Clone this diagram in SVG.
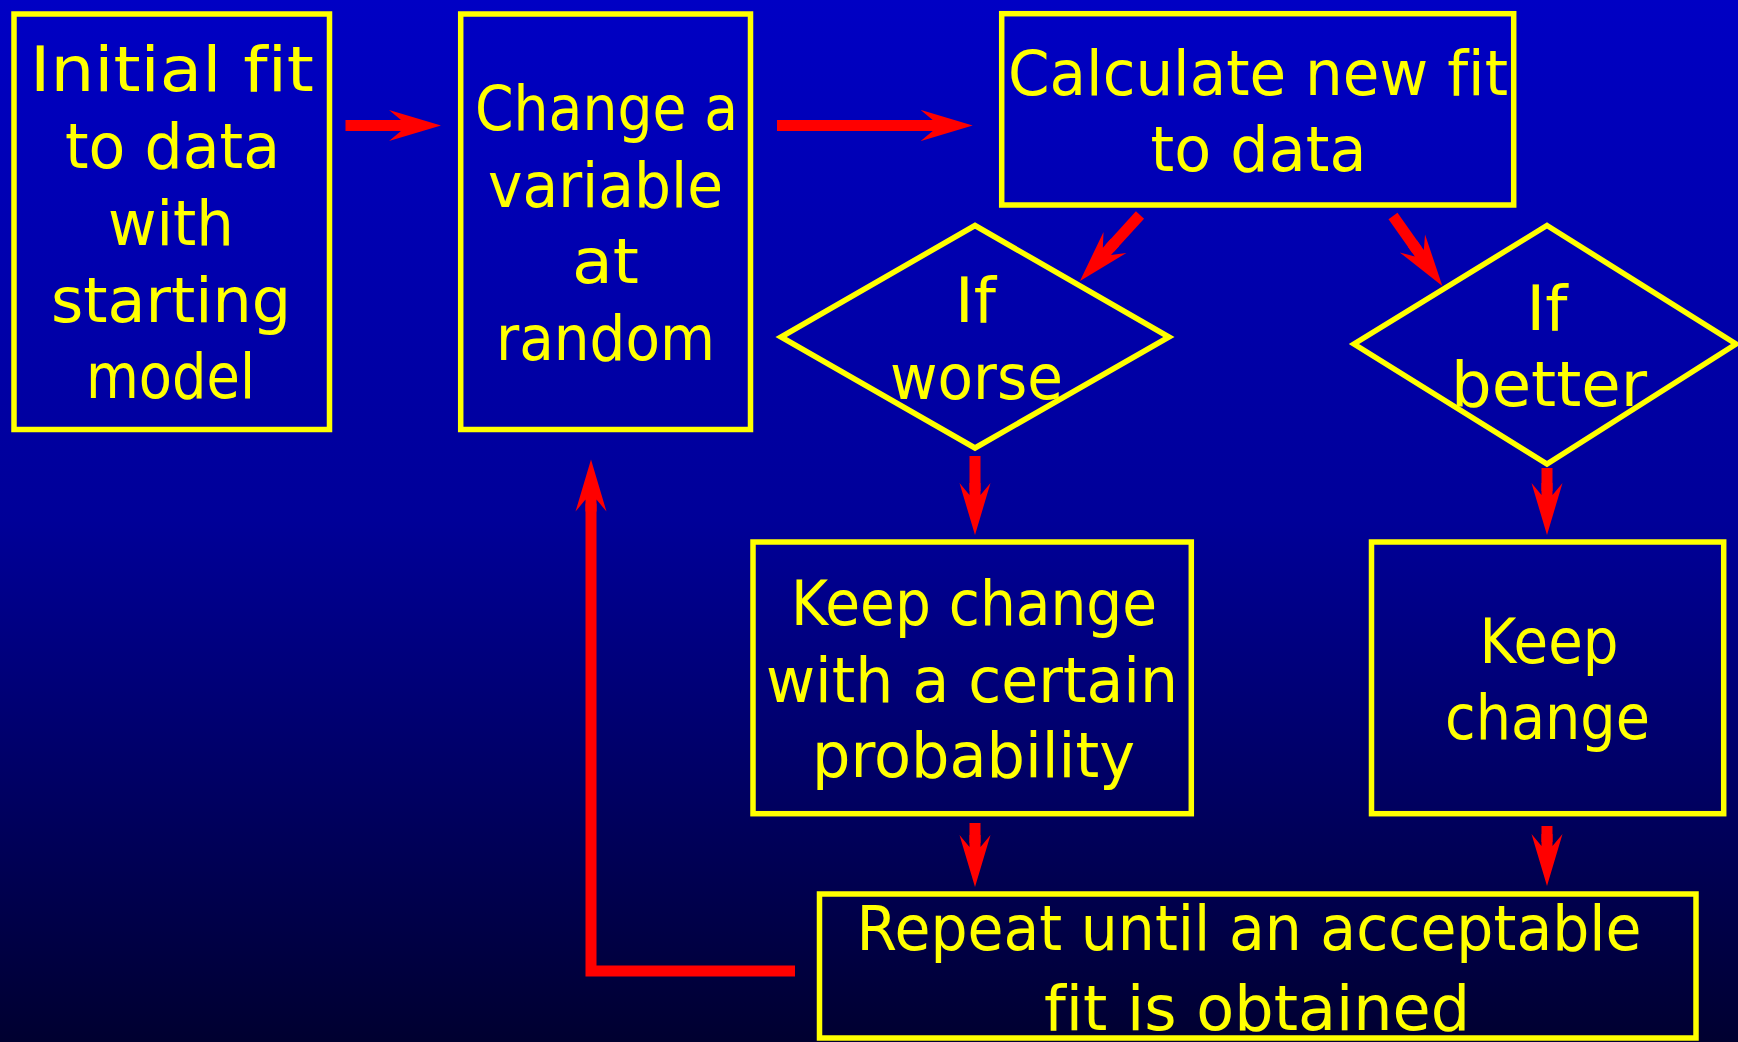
<svg xmlns="http://www.w3.org/2000/svg" width="1738" height="1042" viewBox="0 0 1738 1042">
<defs>
<linearGradient id="bg" x1="0" y1="0" x2="0" y2="1">
<stop offset="0" stop-color="#0000C4"/>
<stop offset="0.5" stop-color="#000098"/>
<stop offset="1" stop-color="#000030"/>
</linearGradient>
<marker id="ah" viewBox="0 -20 60 40" refX="8" refY="0" markerWidth="60" markerHeight="40" markerUnits="userSpaceOnUse" orient="auto">
<path d="M52,0 L0,-15.5 L12,-5.5 L0,-5.5 L0,5.5 L12,5.5 L0,15.5 Z" fill="#FF0000"/>
</marker>
<style>
.box{fill:none;stroke:#FFFF00;stroke-width:5.5}
.t{fill:#FFFF00;font-family:"DejaVu Sans","Liberation Sans",sans-serif;font-size:63px;text-anchor:middle;font-variant-ligatures:none}
.c{fill:none;stroke:#FF0000;stroke-width:11;stroke-linejoin:miter}
</style>
</defs>
<rect width="1738" height="1042" fill="url(#bg)"/>
<g id="connectors">
<path class="c" d="M345.5,125.5 L397,125.5" marker-end="url(#ah)"/>
<path class="c" d="M777,125.5 L928.7,125.5" marker-end="url(#ah)"/>
<path class="c" d="M1140,215 L1109.6,248.4" marker-end="url(#ah)"/>
<path class="c" d="M1393,216 L1417,250" marker-end="url(#ah)"/>
<path class="c" d="M975,456 L975,491" marker-end="url(#ah)"/>
<path class="c" d="M1547,468 L1547,491" marker-end="url(#ah)"/>
<path class="c" d="M975,823 L975,843" marker-end="url(#ah)"/>
<path class="c" d="M1547,826 L1547,842" marker-end="url(#ah)"/>
<path class="c" d="M795,971 L591,971 L591,503.6" marker-end="url(#ah)"/>
</g>
<g id="initial">
<rect class="box" x="14" y="14" width="315.5" height="415.5"/>
<text class="t" x="172" y="91" textLength="284" lengthAdjust="spacingAndGlyphs">Initial fit</text>
<text class="t" x="172.5" y="168" textLength="215" lengthAdjust="spacingAndGlyphs">to data</text>
<text class="t" x="171" y="245" textLength="126" lengthAdjust="spacingAndGlyphs">with</text>
<text class="t" x="171" y="322" textLength="240" lengthAdjust="spacingAndGlyphs">starting</text>
<text class="t" x="170.5" y="398" textLength="169" lengthAdjust="spacingAndGlyphs">model</text>
</g>
<g id="change">
<rect class="box" x="460.7" y="14" width="289.8" height="415.5"/>
<text class="t" x="606.5" y="130" textLength="263" lengthAdjust="spacingAndGlyphs">Change a</text>
<text class="t" x="605.5" y="206.5" textLength="235" lengthAdjust="spacingAndGlyphs">variable</text>
<text class="t" x="605.5" y="283" textLength="67" lengthAdjust="spacingAndGlyphs">at</text>
<text class="t" x="605.5" y="359.5" textLength="219" lengthAdjust="spacingAndGlyphs">random</text>
</g>
<g id="calculate">
<rect class="box" x="1001.7" y="13.7" width="512" height="191.3"/>
<text class="t" x="1258" y="95" textLength="500" lengthAdjust="spacingAndGlyphs">Calculate new fit</text>
<text class="t" x="1258.5" y="170.7" textLength="216" lengthAdjust="spacingAndGlyphs">to data</text>
</g>
<g id="ifworse">
<polygon class="box" points="975,225.5 1169,337 975,448 781,337"/>
<text class="t" x="975.5" y="321.7">If</text>
<text class="t" x="976.5" y="399.3" textLength="173" lengthAdjust="spacingAndGlyphs">worse</text>
</g>
<g id="ifbetter">
<polygon class="box" points="1547,225.5 1736,344 1547,464 1354,344"/>
<text class="t" x="1547" y="330">If</text>
<text class="t" x="1549" y="405.7" textLength="196" lengthAdjust="spacingAndGlyphs">better</text>
</g>
<g id="keepprob">
<rect class="box" x="753" y="542" width="438.3" height="271.7"/>
<text class="t" x="974" y="625" textLength="366" lengthAdjust="spacingAndGlyphs">Keep change</text>
<text class="t" x="972" y="701.7" textLength="412" lengthAdjust="spacingAndGlyphs">with a certain</text>
<text class="t" x="973.5" y="776.7" textLength="323" lengthAdjust="spacingAndGlyphs">probability</text>
</g>
<g id="keep">
<rect class="box" x="1371.5" y="542" width="352.2" height="271.7"/>
<text class="t" x="1549" y="663.3" textLength="139" lengthAdjust="spacingAndGlyphs">Keep</text>
<text class="t" x="1547.5" y="739" textLength="205" lengthAdjust="spacingAndGlyphs">change</text>
</g>
<g id="repeat">
<rect class="box" x="819.5" y="894" width="876.5" height="144"/>
<text class="t" x="1249" y="950" textLength="785" lengthAdjust="spacingAndGlyphs">Repeat until an acceptable</text>
<text class="t" x="1257" y="1030" textLength="426" lengthAdjust="spacingAndGlyphs">fit is obtained</text>
</g>
</svg>
